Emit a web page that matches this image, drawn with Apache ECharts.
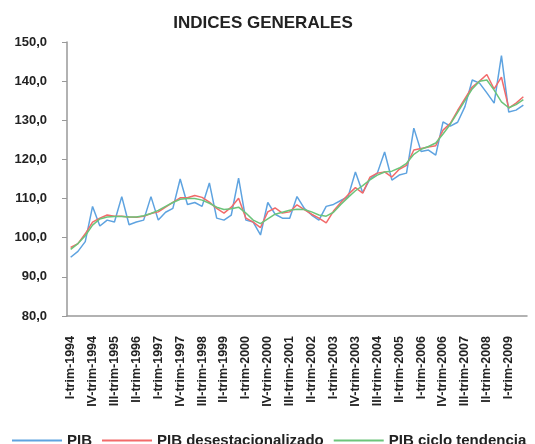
<!DOCTYPE html>
<html lang="es">
<head>
    <meta charset="UTF-8">
    <title>INDICES GENERALES</title>
    <script src="https://cdn.jsdelivr.net/npm/echarts@6/dist/echarts.min.js"></script>
    <style>
        body { margin: 0; background: #fff; }
    </style>
</head>
<body>
    <div id="main" style="width: 535px;height:444px;"></div>
    <script>
        // trimestres 1994-I .. 2009-III
        const romanos = ['I', 'II', 'III', 'IV'];
        const anios = [1994, 1995, 1996, 1997, 1998, 1999, 2000, 2001, 2002, 2003, 2004, 2005, 2006, 2007, 2008, 2009];
        const trimestres = [];
        anios.forEach(a => romanos.forEach(r => trimestres.push(r + '-trim-' + a)));
        trimestres.length = 63;

        const pib = [
            95.0, 96.5, 99.0, 108.0,
            103.0, 104.5, 104.0, 110.5,
            103.3, 104.0, 104.5, 110.5,
            104.5, 106.5, 107.5, 115.0,
            108.5, 109.0, 108.0, 114.0,
            105.0, 104.5, 105.8, 115.2,
            104.5, 104.0, 100.7, 109.0,
            106.0, 105.0, 105.0, 110.5,
            107.5, 105.8, 104.5, 108.0,
            108.5, 109.5, 110.5, 116.8,
            111.5, 115.0, 116.5, 121.9,
            114.7, 116.0, 116.5, 128.0,
            122.0, 122.4, 121.1, 129.6,
            128.5, 129.5, 133.5, 140.3,
            139.5, 137.0, 134.4, 146.5,
            132.1, 132.6, 133.9
        ];
        const pibDesest = [
            97.5, 98.5, 101.0, 104.0,
            105.0, 105.8, 105.5, 105.5,
            105.3, 105.2, 105.5, 106.2,
            106.6, 107.8, 109.0, 110.2,
            110.2, 110.8, 110.3, 109.1,
            107.5, 106.3, 107.8, 110.1,
            105.0, 104.0, 102.6, 106.6,
            107.6, 106.3, 106.6, 108.4,
            107.2, 106.0, 105.0, 103.8,
            106.8, 109.0, 111.0, 112.8,
            111.4, 115.5, 116.5, 116.8,
            115.5, 117.5, 118.5, 122.4,
            122.8, 123.2, 123.5, 127.5,
            129.2, 132.5, 135.5, 138.5,
            140.0, 141.7, 138.0, 141.0,
            133.1, 134.4, 136.0
        ];
        const pibTendencia = [
            97.0, 98.5, 100.5, 103.2,
            104.8, 105.3, 105.4, 105.4,
            105.3, 105.3, 105.6, 106.2,
            107.0, 108.0, 109.0, 109.8,
            110.0, 110.0, 109.6, 108.8,
            107.8, 107.2, 107.4, 107.8,
            106.3, 104.5, 103.6, 104.8,
            106.0, 106.5, 107.0, 107.3,
            107.2, 106.6, 105.8, 105.5,
            106.5, 108.5, 110.3, 112.0,
            113.3, 114.8, 116.0, 116.8,
            117.0, 117.8, 119.0, 121.3,
            122.6, 123.3, 124.2, 126.5,
            129.0, 132.0, 135.0, 138.0,
            140.0, 140.3, 137.7, 134.7,
            133.2, 134.0, 135.3
        ];
        const nombres = ['PIB', 'PIB desestacionalizado', 'PIB ciclo tendencia'];
        const colores = ['#5ea3e0', '#f26a6a', '#6cc47a'];

        const chart = echarts.init(document.getElementById('main'));
        const fuente = 'Liberation Sans';
        const option = {
            animation: false,
            title: {
                text: 'INDICES GENERALES',
                left: 258, top: 10, textAlign: 'center',
                textStyle: { fontFamily: fuente, fontSize: 17, fontWeight: 'bold', color: '#222' }
            },
            legend: {
                left: 7, top: 428,
                itemWidth: 50, itemHeight: 2, itemGap: 10,
                icon: 'rect',
                data: nombres,
                textStyle: { fontFamily: fuente, fontSize: 15, fontWeight: 'bold', color: '#222' }
            },
            grid: { left: 67, right: 8, top: 42, bottom: 128 },
            xAxis: {
                type: 'category',
                data: trimestres,
                boundaryGap: true,
                axisLine: { lineStyle: { color: '#999', width: 1.5 } },
                axisTick: { interval: 0, length: 4, lineStyle: { color: '#999' } },
                axisLabel: {
                    interval: 2, rotate: 90, margin: 20,
                    fontFamily: fuente, fontSize: 12.5, fontWeight: 'bold', color: '#222'
                }
            },
            yAxis: {
                type: 'value',
                min: 80, max: 150, interval: 10,
                splitLine: { show: false },
                axisLine: { show: true, lineStyle: { color: '#999', width: 1.5 } },
                axisTick: { show: true, length: 5, lineStyle: { color: '#999' } },
                axisLabel: {
                    margin: 20,
                    fontFamily: fuente, fontSize: 13, fontWeight: 'bold', color: '#222',
                    formatter: v => v.toFixed(1).replace('.', ',')
                }
            },
            series: [pib, pibDesest, pibTendencia].map((d, i) => ({
                name: nombres[i],
                type: 'line',
                data: d,
                symbol: 'none',
                color: colores[i],
                lineStyle: { width: 1.5 }
            }))
        };
        chart.setOption(option);
    </script>
</body>
</html>
